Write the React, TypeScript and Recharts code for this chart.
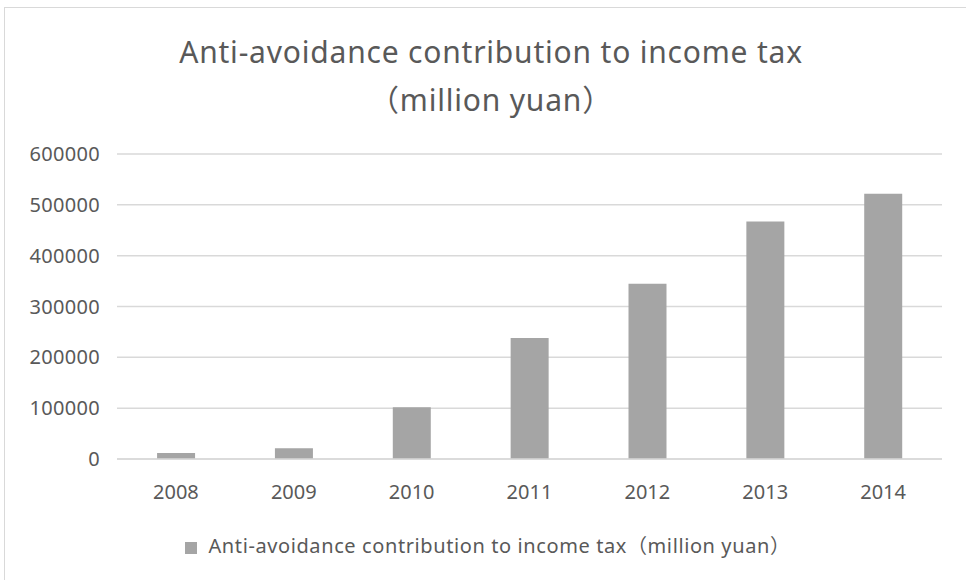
import React from "react";
import {
    BarChart,
    Bar,
    XAxis,
    YAxis,
    CartesianGrid,
    Legend,
} from "recharts";

const years = ["2008", "2009", "2010", "2011", "2012", "2013", "2014"];
const contribution = [12000, 21000, 102000, 238000, 345000, 467000, 522000];
const yTicks = [0, 100000, 200000, 300000, 400000, 500000, 600000];

const seriesName = "Anti-avoidance contribution to income tax（million yuan）";

const data = years.map((year, i) => ({ year, value: contribution[i] }));

const FONT = "'Noto Sans', 'Noto Sans CJK SC', sans-serif";
const TEXT = "#595959";

export default function App() {
    return (
        <div style={{ position: "absolute", left: 0, top: 0, width: 966, height: 580, background: "#fff", fontFamily: FONT, overflow: "hidden" }}>
            <div style={{ position: "absolute", left: 4, top: 7, width: 980, height: 600, border: "1px solid #d9d9d9" }} />
            <div style={{ position: "absolute", left: 0, top: 28, width: 982, textAlign: "center", color: TEXT, fontSize: 30, lineHeight: "48px", letterSpacing: 0.8 }}>
                Anti-avoidance contribution to income tax
                <br />
                （million yuan）
            </div>
            <div style={{ position: "absolute", left: 0, top: 0 }}>
                <BarChart
                    width={966}
                    height={580}
                    data={data}
                    margin={{ top: 154, right: 24, bottom: 62, left: 0 }}
                    barCategoryGap="34%"
                >
                    <CartesianGrid vertical={false} stroke="#d9d9d9" strokeWidth={1.5} />
                    <XAxis
                        dataKey="year"
                        axisLine={{ stroke: "#d9d9d9", strokeWidth: 1.5 }}
                        tickLine={false}
                        tickSize={0}
                        tickMargin={26}
                        tick={{ fill: TEXT, fontSize: 20, fontFamily: FONT }}
                    />
                    <YAxis
                        width={117}
                        domain={[0, 600000]}
                        ticks={yTicks}
                        axisLine={false}
                        tickLine={false}
                        tickSize={0}
                        tickMargin={17}
                        tick={{ fill: TEXT, fontSize: 20, fontFamily: FONT, letterSpacing: 0.3 }}
                    />
                    <Legend
                        verticalAlign="bottom"
                        iconType="square"
                        iconSize={12}
                        wrapperStyle={{ top: 530, left: 10, width: 966, fontSize: 20, fontFamily: FONT, letterSpacing: 0.6 }}
                        formatter={(v) => <span style={{ color: TEXT, marginLeft: 7 }}>{v}</span>}
                    />
                    <Bar dataKey="value" name={seriesName} fill="#a5a5a5" isAnimationActive={false} />
                </BarChart>
            </div>
        </div>
    );
}
